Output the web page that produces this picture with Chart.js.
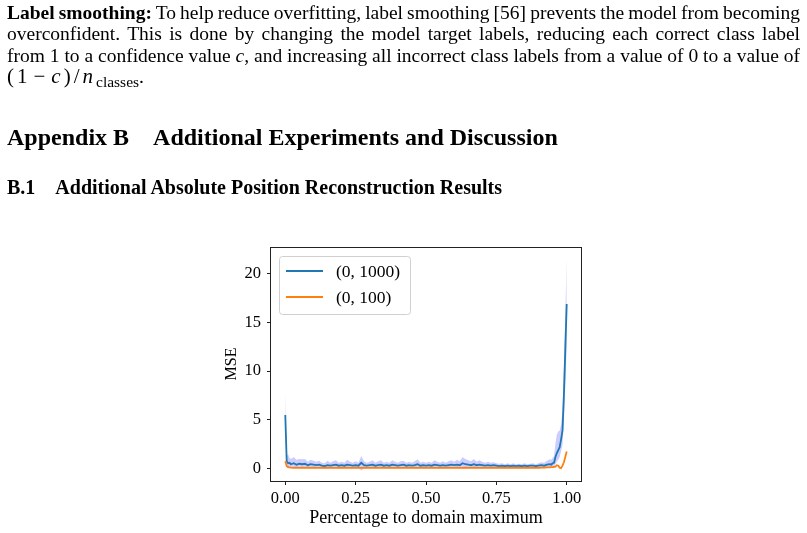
<!DOCTYPE html>
<html>
<head>
<meta charset="utf-8">
<script src="https://cdn.jsdelivr.net/npm/chart.js@4.4.0/dist/chart.umd.min.js"></script>
<style>
  html, body { margin: 0; padding: 0; background: #fff; }
  body { width: 807px; height: 533px; position: relative; overflow: hidden;
         font-family: 'Liberation Serif', 'Times New Roman', serif; color: #000; }
  canvas { position: absolute; left: 0; top: 0; }
  #para { position: absolute; left: 7px; top: 2px; width: 793px; font-size: 19.5px;
          line-height: 21.4px; word-spacing: -1px; }
  #para .j { text-align: justify; text-align-last: justify; }
  .m { font-size: 21px; letter-spacing: 3px; }
  .sub { font-size: 15.5px; position: relative; top: 4px; letter-spacing: 0; }
  #h1 { position: absolute; left: 7px; top: 125px; font-size: 24px; font-weight: bold; line-height: 24px; white-space: nowrap; }
  #h2 { position: absolute; left: 7px; top: 177px; font-size: 20px; font-weight: bold; line-height: 20px; white-space: nowrap; }
</style>
</head>
<body>
<canvas id="chart" width="807" height="533"></canvas>

<div id="para">
  <div class="j"><b>Label smoothing:</b> To help reduce overfitting, label smoothing [56] prevents the model from becoming</div>
  <div class="j">overconfident. This is done by changing the model target labels, reducing each correct class label</div>
  <div class="j">from 1 to a confidence value <i>c</i>, and increasing all incorrect class labels from a value of 0 to a value of</div>
  <div><span class="m">(1<span style="margin:0 3px">−</span><i>c</i>)/<i>n</i></span><span class="sub">classes</span>.</div>
</div>
<div id="h1">Appendix B<span style="margin-left:24px">Additional Experiments and Discussion</span></div>
<div id="h2">B.1<span style="margin-left:20px">Additional Absolute Position Reconstruction Results</span></div>

<script>
// percentage to domain maximum
const xVals = [0, 0.005, 0.01, 0.015,
  0.02, 0.03, 0.04, 0.05, 0.06, 0.07, 0.08, 0.09, 0.10, 0.11, 0.12, 0.13, 0.14, 0.15, 0.16, 0.17,
  0.18, 0.19, 0.20, 0.21, 0.22, 0.23, 0.24, 0.25, 0.26, 0.27, 0.28, 0.29, 0.30, 0.31, 0.32, 0.33,
  0.34, 0.35, 0.36, 0.37, 0.38, 0.39, 0.40, 0.41, 0.42, 0.43, 0.44, 0.45, 0.46, 0.47, 0.48, 0.49,
  0.50, 0.51, 0.52, 0.53, 0.54, 0.55, 0.56, 0.57, 0.58, 0.59, 0.60, 0.61, 0.62, 0.63, 0.64, 0.65,
  0.66, 0.67, 0.68, 0.69, 0.70, 0.71, 0.72, 0.73, 0.74, 0.75, 0.76, 0.77, 0.78, 0.79, 0.80, 0.81,
  0.82, 0.83, 0.84, 0.85, 0.86, 0.87, 0.88, 0.89, 0.90, 0.91, 0.92, 0.93, 0.94,
  0.945, 0.95, 0.955, 0.96, 0.965, 0.97, 0.975, 0.98, 0.985, 0.99, 0.995, 1.0];

// (0, 1000) mean MSE
const mse1000 = [5.5, 0.75, 0.55, 0.6,
  0.45, 0.55, 0.4, 0.5, 0.45, 0.5, 0.35, 0.45, 0.4, 0.35, 0.4, 0.3, 0.25, 0.35, 0.3, 0.35,
  0.4, 0.3, 0.35, 0.3, 0.4, 0.35, 0.3, 0.35, 0.3, 0.6, 0.35, 0.3, 0.35, 0.4, 0.3, 0.35,
  0.4, 0.3, 0.35, 0.3, 0.4, 0.35, 0.3, 0.35, 0.4, 0.3, 0.35, 0.3, 0.35, 0.45, 0.3, 0.35,
  0.3, 0.35, 0.3, 0.4, 0.35, 0.3, 0.35, 0.3, 0.35, 0.4, 0.35, 0.4, 0.35, 0.55, 0.45, 0.4,
  0.35, 0.45, 0.35, 0.4, 0.35, 0.3, 0.35, 0.3, 0.35, 0.3, 0.25, 0.3, 0.25, 0.3, 0.25, 0.3,
  0.25, 0.3, 0.25, 0.3, 0.25, 0.3, 0.3, 0.25, 0.3, 0.35, 0.3, 0.4, 0.45,
  0.4, 0.55, 0.6, 1.2, 1.6, 1.9, 2.2, 3.0, 3.9, 7.5, 12.2, 16.9];

// (0, 1000) spread, upper / lower edge
const mse1000Hi = [7.8, 1.3, 1.5, 1.1,
  1.0, 1.2, 0.9, 1.0, 0.95, 1.0, 0.7, 0.9, 0.8, 0.7, 0.8, 0.6, 0.55, 0.8, 0.6, 0.75,
  0.85, 0.6, 0.7, 0.6, 0.9, 0.7, 0.6, 0.75, 0.6, 1.3, 0.75, 0.6, 0.7, 0.85, 0.6, 0.75,
  0.85, 0.6, 0.7, 0.6, 0.85, 0.7, 0.6, 0.75, 0.8, 0.6, 0.7, 0.6, 0.75, 0.95, 0.6, 0.7,
  0.6, 0.7, 0.6, 0.85, 0.7, 0.6, 0.75, 0.6, 0.75, 0.85, 0.7, 0.9, 0.75, 1.2, 1.0, 0.85,
  0.75, 1.0, 0.7, 0.85, 0.7, 0.6, 0.7, 0.6, 0.65, 0.55, 0.5, 0.55, 0.45, 0.55, 0.45, 0.55,
  0.45, 0.5, 0.45, 0.55, 0.45, 0.5, 0.55, 0.45, 0.55, 0.65, 0.6, 0.8, 0.95,
  0.9, 1.1, 1.3, 2.6, 3.5, 3.8, 3.9, 4.5, 6.0, 10.5, 16.0, 21.6];

const mse1000Lo = [3.4, 0.2, 0.1, 0.15,
  0.1, 0.1, 0.05, 0.1, 0.05, 0.1, 0.05, 0.1, 0.05, 0.05, 0.1, 0.05, 0.0, 0.05, 0.05, 0.05,
  0.1, 0.05, 0.05, 0.05, 0.1, 0.05, 0.05, 0.05, 0.05, -0.2, 0.05, 0.05, 0.05, 0.1, 0.05, 0.05,
  0.1, 0.05, 0.05, 0.05, 0.1, 0.05, 0.05, 0.05, 0.1, 0.05, 0.05, 0.05, 0.05, 0.0, 0.05, 0.05,
  0.05, 0.05, 0.05, 0.05, 0.05, 0.05, 0.05, 0.05, 0.05, 0.05, 0.05, 0.05, 0.05, 0.0, 0.05, 0.05,
  0.05, 0.05, 0.05, 0.05, 0.05, 0.05, 0.05, 0.05, 0.05, 0.05, 0.05, 0.05, 0.05, 0.05, 0.05, 0.05,
  0.05, 0.05, 0.05, 0.05, 0.05, 0.05, 0.05, 0.05, 0.05, 0.05, 0.05, 0.1, 0.1,
  0.1, 0.15, 0.2, 0.45, 0.7, 0.9, 1.2, 1.8, 2.4, 4.8, 8.5, 12.2];

// (0, 100) mean MSE
const mse100 = [0.75, 0.25, 0.15, 0.12,
  0.1, 0.08, 0.1, 0.08, 0.1, 0.08, 0.1, 0.08, 0.1, 0.08, 0.08, 0.1, 0.08, 0.08, 0.1, 0.08,
  0.08, 0.1, 0.08, 0.08, 0.1, 0.08, 0.08, 0.1, 0.08, 0.08, 0.1, 0.08, 0.08, 0.1, 0.08, 0.08,
  0.1, 0.08, 0.08, 0.1, 0.08, 0.08, 0.1, 0.08, 0.08, 0.1, 0.08, 0.08, 0.1, 0.08, 0.08, 0.1,
  0.08, 0.08, 0.1, 0.08, 0.08, 0.1, 0.08, 0.08, 0.1, 0.08, 0.08, 0.1, 0.08, 0.08, 0.1, 0.08,
  0.08, 0.1, 0.08, 0.08, 0.1, 0.08, 0.08, 0.1, 0.08, 0.08, 0.1, 0.08, 0.08, 0.1, 0.08, 0.08,
  0.1, 0.08, 0.08, 0.1, 0.08, 0.08, 0.1, 0.08, 0.08, 0.1, 0.1, 0.12, 0.12,
  0.15, 0.15, 0.18, 0.2, 0.35, 0.3, 0.1, 0.05, 0.3, 0.65, 1.2, 1.75];

const seriesNames = ['(0, 1000)', '(0, 100)'];
const seriesColors = ['#1f77b4', '#ff7f0e'];
const xTicks = [0, 0.25, 0.5, 0.75, 1.0];
const yTicks = [0, 5, 10, 15, 20];

const pts = arr => arr.map((v, i) => ({x: xVals[i], y: v}));

Chart.defaults.font.family = "'Liberation Serif', 'Times New Roman', serif";
Chart.defaults.color = '#000';

// full box around the axes + legend in upper left corner
const framePlugin = {
  id: 'frame',
  afterDraw(chart) {
    const {ctx, chartArea: a} = chart;
    ctx.save();
    ctx.strokeStyle = '#222';
    ctx.lineWidth = 1;
    ctx.strokeRect(Math.round(a.left) - 0.5, Math.round(a.top) + 0.5,
      Math.round(a.right - a.left) + 1, Math.round(a.bottom - a.top));

    // legend
    ctx.beginPath();
    ctx.roundRect(279.5, 256.5, 131, 58, 3);
    ctx.fillStyle = 'rgba(255,255,255,0.8)';
    ctx.fill();
    ctx.strokeStyle = '#d0d0d0';
    ctx.stroke();
    ctx.font = "17.5px 'Liberation Serif'";
    ctx.textBaseline = 'middle';
    seriesNames.forEach((name, i) => {
      const y = 271 + i * 26;
      ctx.beginPath();
      ctx.moveTo(286, y);
      ctx.lineTo(323, y);
      ctx.strokeStyle = seriesColors[i];
      ctx.lineWidth = 1.8;
      ctx.stroke();
      ctx.fillStyle = '#000';
      ctx.fillText(name, 336, y + 1);
    });
    ctx.restore();
  }
};

new Chart(document.getElementById('chart'), {
  type: 'line',
  data: {
    datasets: [
      {
        label: seriesNames[1],
        data: pts(mse100),
        borderColor: seriesColors[1],
        borderWidth: 1.8,
        pointRadius: 0,
        fill: false,
        order: 0
      },
      {
        label: seriesNames[0],
        data: pts(mse1000),
        borderColor: seriesColors[0],
        borderWidth: 1.8,
        pointRadius: 0,
        fill: false,
        order: 1
      },
      {
        label: 'hi',
        data: pts(mse1000Hi),
        borderWidth: 0,
        borderColor: 'rgba(0,0,0,0)',
        backgroundColor: 'rgba(0,0,255,0.2)',
        pointRadius: 0,
        fill: '+1',
        order: 2
      },
      {
        label: 'lo',
        data: pts(mse1000Lo),
        borderWidth: 0,
        borderColor: 'rgba(0,0,0,0)',
        pointRadius: 0,
        fill: false,
        order: 3
      }
    ]
  },
  plugins: [framePlugin],
  options: {
    responsive: false,
    animation: false,
    devicePixelRatio: 1,
    layout: { padding: { left: 0, right: 226, top: 247, bottom: 0 } },
    plugins: {
      legend: { display: false },
      tooltip: { enabled: false }
    },
    scales: {
      x: {
        type: 'linear',
        min: -0.0508,
        max: 1.0508,
        afterBuildTicks: s => { s.ticks = xTicks.map(v => ({value: v})); },
        afterFit: s => { s.height = 52; },
        ticks: {
          font: { size: 16.5 },
          padding: 4,
          maxRotation: 0,
          callback: v => Number(v).toFixed(2)
        },
        grid: { drawOnChartArea: false, tickLength: 4, tickColor: '#222', tickWidth: 1 },
        border: { display: false },
        title: {
          display: true,
          text: 'Percentage to domain maximum',
          font: { size: 18 },
          padding: { top: 0, bottom: 4 }
        }
      },
      y: {
        type: 'linear',
        min: -1.27,
        max: 22.74,
        afterBuildTicks: s => { s.ticks = yTicks.map(v => ({value: v})); },
        afterFit: s => { s.width = 271; },
        ticks: {
          font: { size: 16.5 },
          padding: 6,
          callback: v => String(v)
        },
        grid: { drawOnChartArea: false, tickLength: 4, tickColor: '#222', tickWidth: 1 },
        border: { display: false },
        title: {
          display: true,
          text: 'MSE',
          font: { size: 16 },
          padding: { top: 222, bottom: 0 }
        }
      }
    }
  }
});
</script>
</body>
</html>
